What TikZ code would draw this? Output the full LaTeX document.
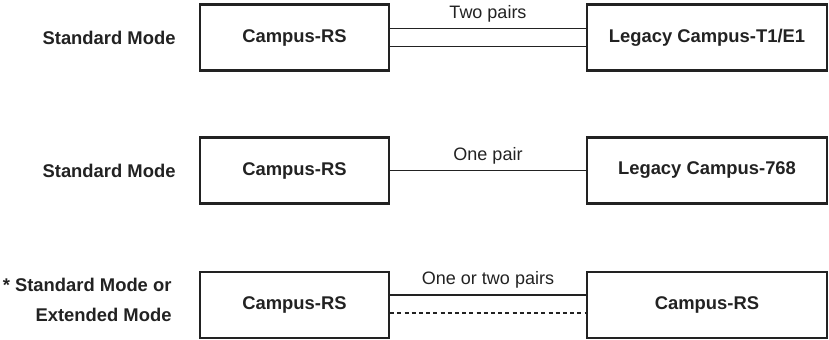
\documentclass[tikz,border=0pt]{standalone}
\usepackage{fontspec}
\setmainfont{Liberation Sans}
\usetikzlibrary{positioning}
\definecolor{inkgray}{HTML}{222222}
\tikzset{
  unitbox/.style={draw=inkgray, text=inkgray, line width=1.1pt, minimum height=33pt, font=\fontsize{9.2}{11}\selectfont\bfseries},
  rsbox/.style={unitbox, minimum width=94.5pt},
  legbox/.style={unitbox, minimum width=120pt},
  modelabel/.style={text=inkgray, font=\fontsize{9.2}{15}\selectfont\bfseries, align=right, inner sep=0pt},
  pairline/.style={draw=inkgray, line width=0.7pt},
  pairtext/.style={text=inkgray, font=\fontsize{9}{11}\selectfont, above, inner sep=3pt}
}

\begin{document}
\begin{tikzpicture} [x=.5pt, y=-.5pt]
\useasboundingbox (0,0) rectangle (829,339);
% Standard Mode, T1/E1
\node[rsbox] (rs1) at (294.5,37.5) {Campus-RS};
\node[legbox] (lg1) at (707,37.5) {Legacy Campus-T1/E1};
\node[modelabel, left=11.5pt of rs1] (mode1) {Standard Mode};
\draw[pairline] ([yshift=4.5pt]rs1.east) -- ([yshift=4.5pt]lg1.west) node[pairtext, midway] {Two pairs};
\draw[pairline] ([yshift=-4.5pt]rs1.east) -- ([yshift=-4.5pt]lg1.west);
% Standard Mode, 768
\node[rsbox] (rs2) at (294.5,170.5) {Campus-RS};
\node[legbox] (lg2) at (707,170.5) {Legacy Campus-768};
\node[modelabel, left=11.5pt of rs2] (mode2) {Standard Mode};
\draw[pairline] (rs2.east) -- (lg2.west) node[pairtext, midway] {One pair};
% Standard or Extended Mode
\node[rsbox] (rs3) at (294.5,305) {Campus-RS};
\node[legbox] (rs4) at (707,305) {Campus-RS};
\node[modelabel, left=13.5pt of rs3, yshift=2.5pt] (mode3) {* Standard Mode or\\Extended Mode};
\draw[pairline] ([yshift=5pt]rs3.east) -- ([yshift=5pt]rs4.west) node[pairtext, midway] {One or two pairs};
\draw[pairline, dash pattern=on 2pt off 1.6pt] ([yshift=-4pt]rs3.east) -- ([yshift=-4pt]rs4.west);
\end{tikzpicture}
\end{document}
